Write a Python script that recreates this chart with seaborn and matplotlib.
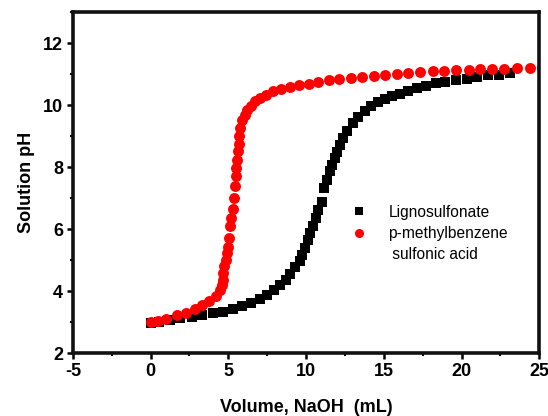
import matplotlib
matplotlib.use("Agg")
import matplotlib.pyplot as plt
import seaborn as sns
import pandas as pd
from matplotlib.ticker import MultipleLocator
from matplotlib.lines import Line2D

ligno_x = [0, 0.57, 1.24, 1.92, 2.65, 3.33, 4.0, 4.64, 5.29, 5.88, 6.49, 7.01, 7.51, 7.96,
           8.34, 8.69, 8.98, 9.28, 9.59, 9.75, 9.92, 10.1, 10.26, 10.44, 10.64, 10.8, 11.0,
           11.17, 11.36, 11.52, 11.7, 11.85, 12.0, 12.17, 12.4, 12.64, 13.03, 13.37, 13.82,
           14.2, 14.6, 15.07, 15.5, 16.03, 16.59, 17.13, 17.72, 18.33, 18.94, 19.62, 20.33,
           20.98, 21.68, 22.4, 23.13]
ligno_y = [2.97, 3.02, 3.08, 3.13, 3.18, 3.24, 3.29, 3.34, 3.43, 3.53, 3.63, 3.75, 3.88, 4.04,
           4.20, 4.37, 4.56, 4.77, 4.96, 5.17, 5.39, 5.66, 5.87, 6.09, 6.35, 6.62, 6.89,
           7.32, 7.59, 7.86, 8.08, 8.29, 8.5, 8.72, 8.94, 9.17, 9.42, 9.63, 9.82,
           9.96, 10.09, 10.19, 10.28, 10.37, 10.47, 10.55, 10.62, 10.71, 10.76, 10.82, 10.85,
           10.9, 10.96, 10.98, 11.03]

pmbs_x = [0, 0.5, 1.02, 1.7, 2.26, 2.83, 3.33, 3.78, 4.19, 4.46, 4.57, 4.64, 4.68, 4.75, 4.82,
          4.91, 4.95, 5.02, 5.09, 5.18, 5.27, 5.36, 5.43, 5.48, 5.52, 5.54, 5.59, 5.66, 5.7,
          5.77, 5.88, 6.04, 6.22, 6.45, 6.72, 7.06, 7.44, 7.9, 8.37, 8.94, 9.55, 10.16, 10.79,
          11.47, 12.15, 12.9, 13.62, 14.34, 15.09, 15.84, 16.56, 17.35, 18.14, 18.89, 19.66,
          20.45, 21.18, 21.98, 22.72, 23.55, 24.39, 25.2]
pmbs_y = [3.02, 3.05, 3.11, 3.22, 3.31, 3.42, 3.55, 3.69, 3.85, 4.04, 4.2, 4.37, 4.58, 4.8, 5.01,
          5.23, 5.44, 5.71, 6.09, 6.35, 6.66, 7.0, 7.38, 7.7, 7.97, 8.24, 8.51, 8.75, 8.99,
          9.26, 9.51, 9.69, 9.85, 9.98, 10.12, 10.23, 10.33, 10.44, 10.52, 10.58, 10.65, 10.69, 10.74,
          10.8, 10.84, 10.88, 10.92, 10.95, 10.98, 11.01, 11.03, 11.06, 11.09, 11.1, 11.12,
          11.14, 11.15, 11.17, 11.18, 11.19, 11.2, 11.21]

legend_labels = ["Lignosulfonate", "p-methylbenzene", " sulfonic acid"]

plt.rcParams['font.family'] = ['Liberation Sans', 'DejaVu Sans']
plt.rcParams['axes.unicode_minus'] = False
plt.rcParams['axes.spines.top'] = True
plt.rcParams['axes.spines.right'] = True

fig = plt.figure(figsize=(5.48, 4.16), dpi=100)
ax = fig.add_axes([0.133, 0.151, 0.851, 0.820])

df_l = pd.DataFrame({"x": ligno_x, "y": ligno_y})
df_p = pd.DataFrame({"x": pmbs_x, "y": pmbs_y})

sns.scatterplot(data=df_l, x="x", y="y", ax=ax, marker="s", s=55, color="black",
                linewidth=0, zorder=3, legend=False)
sns.scatterplot(data=df_p, x="x", y="y", ax=ax, marker="o", s=62, color="#ff0000",
                linewidth=0, zorder=4, legend=False)

ax.set_xlim(-5, 25)
ax.set_ylim(2, 13)
ax.xaxis.set_major_locator(MultipleLocator(5))
ax.xaxis.set_minor_locator(MultipleLocator(2.5))
ax.yaxis.set_major_locator(MultipleLocator(2))
ax.yaxis.set_minor_locator(MultipleLocator(1))

for name in ["left", "bottom", "top", "right"]:
    sp = ax.spines[name]
    sp.set_visible(True)
    sp.set_linewidth(2.6)
    sp.set_edgecolor("#111111")
    sp.set_zorder(10)

ax.tick_params(which="major", direction="out", length=4, width=1.8, labelsize=13, pad=3)
ax.tick_params(which="minor", direction="out", length=2.5, width=1.5)
for lab in ax.get_xticklabels() + ax.get_yticklabels():
    lab.set_fontweight("bold")

ax.set_xlabel("Volume, NaOH  (mL)", fontsize=13, fontweight="bold", labelpad=14)
ax.set_ylabel("Solution pH", fontsize=13, fontweight="bold", labelpad=6)

handles = [
    Line2D([], [], linestyle="none", marker="s", markersize=6, color="black", markeredgewidth=0),
    Line2D([], [], linestyle="none", marker="o", markersize=6.5, color="#ff0000", markeredgewidth=0),
    Line2D([], [], linestyle="none", marker=None),
]
leg = ax.legend(handles, legend_labels, loc="upper left", bbox_to_anchor=(0.593, 0.435),
                frameon=False, fontsize=11.2, handletextpad=1.3, labelspacing=0.4,
                handlelength=1.2, borderaxespad=0, borderpad=0)

fig.savefig("out.png", dpi=100)
